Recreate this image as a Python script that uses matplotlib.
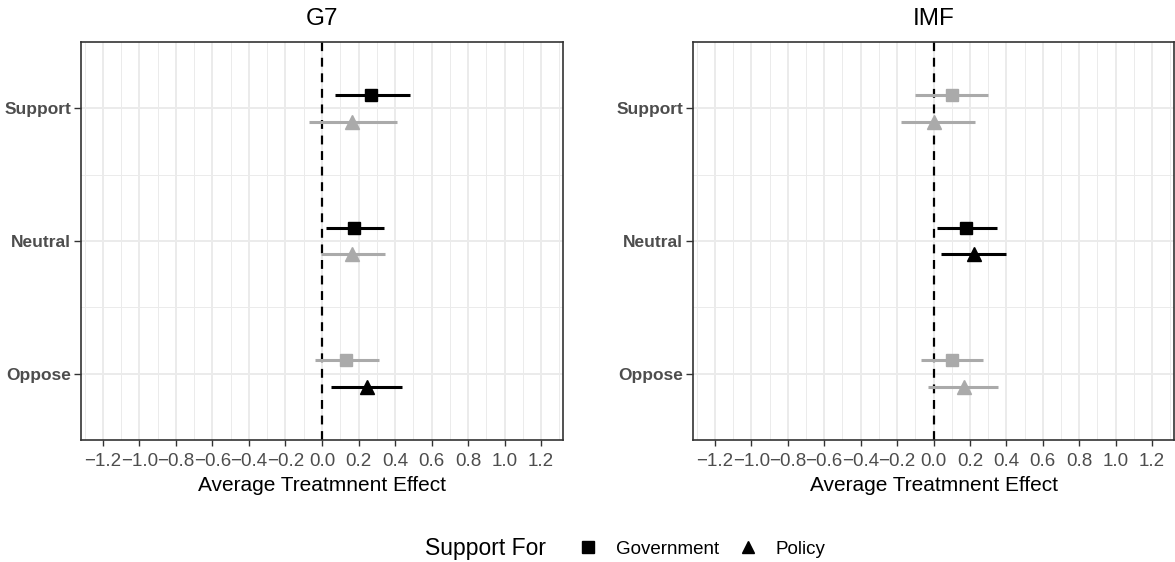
import numpy as np
import matplotlib.pyplot as plt
from matplotlib.lines import Line2D
from matplotlib.ticker import MultipleLocator

plt.rcParams['font.family'] = ['Liberation Sans', 'DejaVu Sans']

# data
categories = ["Oppose", "Neutral", "Support"]
panels = ["G7", "IMF"]

g7_gov_est = [0.13, 0.175, 0.27]
g7_gov_lo = [-0.04, 0.02, 0.07]
g7_gov_hi = [0.31, 0.34, 0.48]
g7_pol_est = [0.245, 0.165, 0.165]
g7_pol_lo = [0.05, -0.005, -0.07]
g7_pol_hi = [0.44, 0.345, 0.41]

imf_gov_est = [0.10, 0.18, 0.10]
imf_gov_lo = [-0.07, 0.02, -0.10]
imf_gov_hi = [0.27, 0.35, 0.30]
imf_pol_est = [0.165, 0.22, 0.0]
imf_pol_lo = [-0.03, 0.04, -0.18]
imf_pol_hi = [0.355, 0.40, 0.23]

panel_data = {
    "G7": {"Government": (g7_gov_est, g7_gov_lo, g7_gov_hi),
           "Policy": (g7_pol_est, g7_pol_lo, g7_pol_hi)},
    "IMF": {"Government": (imf_gov_est, imf_gov_lo, imf_gov_hi),
            "Policy": (imf_pol_est, imf_pol_lo, imf_pol_hi)},
}

markers = {"Government": "s", "Policy": "^"}
offsets = {"Government": 0.1, "Policy": -0.1}
msizes = {"Government": 9, "Policy": 10}
GRAY = "#AAAAAA"
DARK = "#333333"

fig = plt.figure(figsize=(11.75, 5.62), dpi=100)
W, H = 1175, 562
boxes = [(81, 42, 563, 440), (693, 42, 1174, 440)]

for name, (x0, y0, x1, y1) in zip(panels, boxes):
    ax = fig.add_axes([x0 / W, 1 - y1 / H, (x1 - x0) / W, (y1 - y0) / H])
    ax.set_xlim(-1.32, 1.32)
    ax.set_ylim(0.5, 3.5)
    ax.xaxis.set_major_locator(MultipleLocator(0.2))
    ax.xaxis.set_minor_locator(MultipleLocator(0.1))
    ax.set_yticks([1, 2, 3])
    ax.set_yticks([1.5, 2.5], minor=True)
    ax.set_xticklabels([f"{v:.1f}".replace("-", "\u2212") if abs(v) > 1e-9 else "0.0"
                        for v in ax.get_xticks()])
    ax.set_yticklabels(categories, fontweight='bold', fontsize=12.5, color="#4D4D4D")
    ax.tick_params(axis='x', which='major', labelsize=13.5, labelcolor="#4D4D4D",
                   length=4, width=1, color=DARK, pad=5)
    ax.tick_params(axis='y', which='major', length=5, width=1, color=DARK, pad=2)
    ax.tick_params(which='minor', length=0)
    ax.grid(True, which='major', color="#EBEBEB", linewidth=1.4)
    ax.grid(True, which='minor', color="#EBEBEB", linewidth=0.7)
    ax.set_axisbelow(True)
    for sp in ax.spines.values():
        sp.set_color(DARK)
        sp.set_linewidth(1.2)
    ax.axvline(0, color='black', linestyle=(0, (4, 3)), linewidth=1.6, zorder=2)

    ypos = np.arange(1, len(categories) + 1)
    for series in ["Government", "Policy"]:
        est, lo, hi = panel_data[name][series]
        for y, e, l, h in zip(ypos, est, lo, hi):
            col = 'black' if (l > 0 or h < 0) else GRAY
            yy = y + offsets[series]
            ax.plot([l, h], [yy, yy], color=col, linewidth=2.2, zorder=3,
                    solid_capstyle='butt')
            ax.plot(e, yy, marker=markers[series], color=col, markersize=msizes[series],
                    linestyle='none', zorder=4)

    ax.set_title(name, fontsize=17.5, pad=12)
    ax.set_xlabel("Average Treatmnent Effect", fontsize=15, labelpad=5)

fig.text(425 / W, 1 - 549 / H, "Support For", fontsize=16.5, va='center', ha='left')
handles = [Line2D([], [], marker='s', color='black', linestyle='none', markersize=8),
           Line2D([], [], marker='^', color='black', linestyle='none', markersize=9)]
fig.legend(handles, ["Government", "Policy"], loc='center left',
           bbox_to_anchor=(560 / W, 1 - 549 / H), ncol=2, frameon=False,
           fontsize=13.5, handletextpad=0.9, columnspacing=0.9, handlelength=1.2)

fig.savefig("out.png", dpi=100)
